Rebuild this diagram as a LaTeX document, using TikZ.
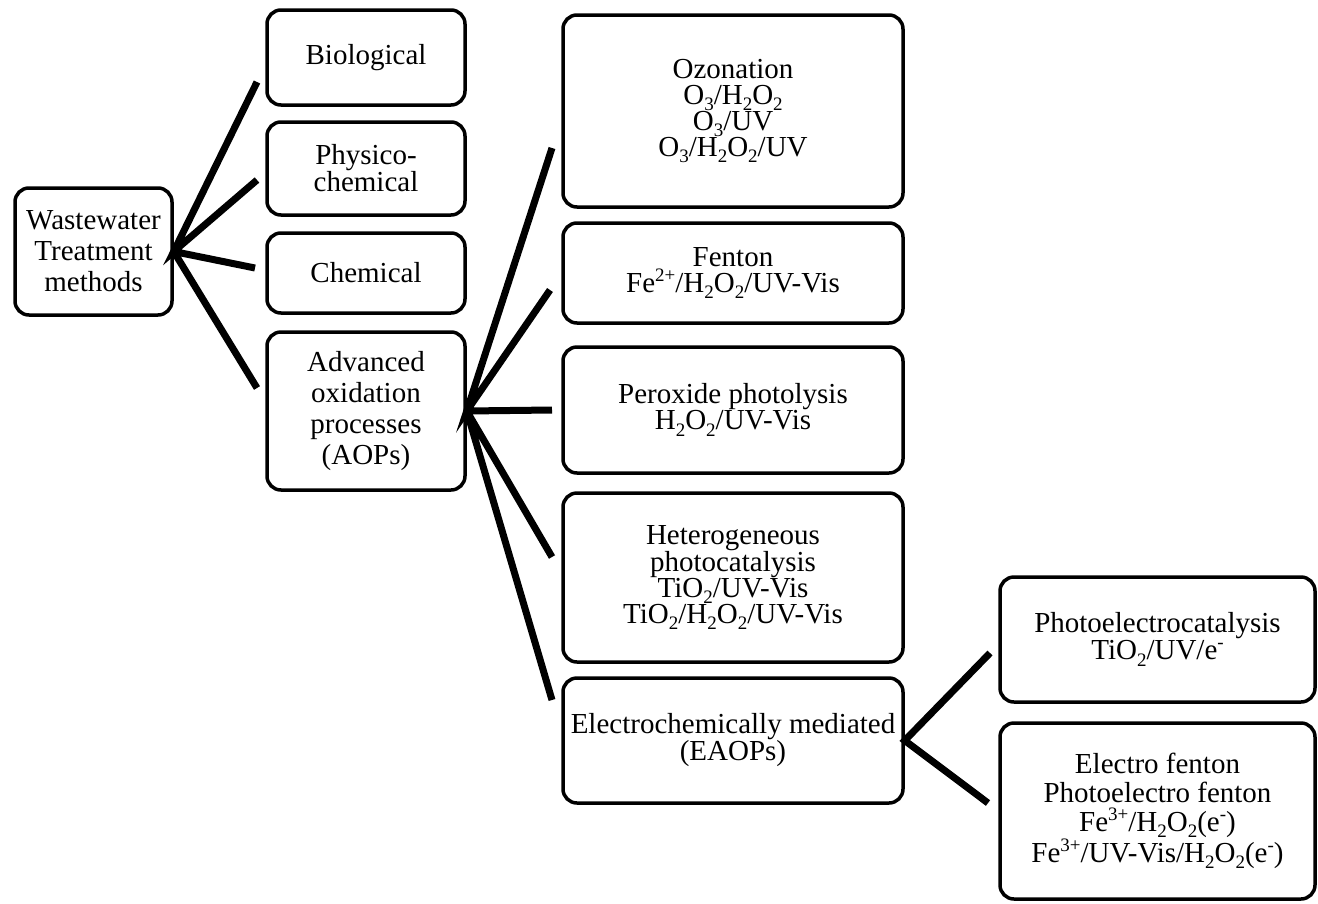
\documentclass[tikz,border=0pt]{standalone}
\usepackage{fontspec}
\setmainfont{Liberation Serif}
\usetikzlibrary{positioning}
\tikzset{
	>=latex,
}
\newcommand{\sbs}[1]{\raisebox{-0.22em}{\fontsize{19}{19}\selectfont #1}}
\newcommand{\sps}[1]{\raisebox{0.38em}{\fontsize{19}{19}\selectfont #1}}
\begin{document}
\begin{tikzpicture}[x=1pt,y=-1pt,
		box/.style={rectangle, rounded corners=14pt, draw, line width=3.5pt, align=center, inner sep=0pt, font=\fontsize{29}{27}\selectfont},
		tight/.style={font=\fontsize{29}{26}\selectfont},
		loose/.style={font=\fontsize{29}{31}\selectfont},
		left col/.style={box, minimum width=198pt},
		mid col/.style={box, tight, minimum width=340pt},
		right col/.style={box, minimum width=315pt},
		link/.style={line width=7pt},
	]
		\useasboundingbox (0,0) rectangle (1318,903);
		\node(ww)[box,loose,minimum width=157pt,minimum height=127pt] at (93.5,251.5) {Wastewater\\Treatment\\methods};
		\node(bio)[left col,minimum height=95pt] at (366,57.5) {Biological};
		\node(phys)[left col,minimum height=93pt] at (366,168.5) {Physico-\\chemical};
		\node(chem)[left col,minimum height=80pt] at (366,273) {Chemical};
		\node(aop)[left col,loose,minimum height=158pt] at (366,411) {Advanced\\oxidation\\processes\\(AOPs)};
		\node(ozo)[mid col,minimum height=192pt] at (733,111) {Ozonation\\O\sbs{3}/H\sbs{2}O\sbs{2}\\O\sbs{3}/UV\\O\sbs{3}/H\sbs{2}O\sbs{2}/UV};
		\node(fen)[mid col,minimum height=100pt] at (733,273) {Fenton\\Fe\sps{2+}/H\sbs{2}O\sbs{2}/UV-Vis};
		\node(per)[mid col,minimum height=126pt] at (733,410) {Peroxide photolysis\\H\sbs{2}O\sbs{2}/UV-Vis};
		\node(het)[mid col,minimum height=169pt] at (733,577.5) {Heterogeneous\\photocatalysis\\TiO\sbs{2}/UV-Vis\\TiO\sbs{2}/H\sbs{2}O\sbs{2}/UV-Vis};
		\node(ele)[box,minimum width=340pt,minimum height=125pt] at (733,740.5) {Electrochemically mediated\\(EAOPs)};
		\node(pec)[right col,minimum height=125pt] at (1157.5,639.5) {Photoelectrocatalysis\\TiO\sbs{2}/UV/e\sps{-}};
		\node(efe)[right col,font=\fontsize{29}{29}\selectfont,minimum height=176pt] at (1157.5,811) {Electro fenton\\Photoelectro fenton\\Fe\sps{3+}/H\sbs{2}O\sbs{2}(e\sps{-})\\Fe\sps{3+}/UV-Vis/H\sbs{2}O\sbs{2}(e\sps{-})};
		\coordinate(k1) at (257,82);
		\coordinate(k2) at (257,180);
		\coordinate(k3) at (255,268);
		\coordinate(k4) at (257,388);
		\coordinate(a1) at (552,148);
		\coordinate(a2) at (550,290);
		\coordinate(a3) at (552,410);
		\coordinate(a4) at (552,557);
		\coordinate(a5) at (552,700);
		\coordinate(e1) at (990,653);
		\coordinate(e2) at (988,803);
		\draw[link] (k1) -- (ww.east) -- (k2) (ww.east) -- (k3) (ww.east) -- (k4);
		\draw[link] (a1) -- (aop.east) -- (a2) (aop.east) -- (a3) (aop.east) -- (a4) (aop.east) -- (a5);
		\draw[link] (e1) -- (ele.east) -- (e2);
	\end{tikzpicture}
\end{document}
